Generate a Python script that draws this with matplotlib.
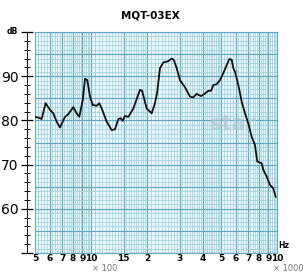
import numpy as np
import matplotlib; matplotlib.use("Agg")
import matplotlib.pyplot as plt

# frequency response
freq = [504, 532, 543, 570, 602, 627, 654, 681, 725, 755,
        803, 838, 865, 903, 929, 955, 988, 1021, 1073, 1108,
        1142, 1215, 1292, 1346, 1402, 1444, 1480, 1523, 1588, 1689,
        1834, 1883, 1992, 2120, 2208, 2272, 2349, 2447, 2603, 2716,
        2787, 2890, 3010, 3200, 3403, 3548, 3697, 3902, 4100, 4276,
        4417, 4545, 4741, 4938, 5144, 5365, 5543, 5710, 5823, 5946,
        6195, 6460, 6730, 7010, 7310, 7615, 7833, 8275, 8440, 8800,
        9170, 9553, 9840]
spl = [80.8, 80.5, 80.3, 83.9, 82.4, 81.6, 79.7, 78.4, 80.8, 81.4,
       83.0, 81.6, 80.8, 84.6, 89.4, 89.1, 85.4, 83.5, 83.3, 83.9,
       82.7, 79.7, 77.8, 78.0, 80.3, 80.5, 79.9, 81.0, 80.8, 82.7,
       86.9, 86.7, 82.7, 81.6, 83.9, 86.5, 91.8, 93.1, 93.4, 94.0,
       93.7, 91.8, 89.1, 87.5, 85.4, 85.2, 86.0, 85.5, 86.1, 86.7,
       86.7, 88.0, 88.2, 89.1, 90.7, 92.5, 93.9, 93.7, 91.8, 91.0,
       88.0, 84.2, 81.6, 79.3, 76.3, 74.4, 70.7, 70.3, 68.8, 67.3,
       65.4, 64.6, 62.7]

xtick_pos = [500, 600, 700, 800, 900, 1000, 1500, 2000, 3000, 4000,
             5000, 6000, 7000, 8000, 9000, 10000]
xtick_lbl = ["5", "6", "7", "8", "9", "10", "15", "2", "3", "4",
             "5", "6", "7", "8", "9", "10"]
ytick_pos = [50, 60, 70, 80, 90, 100]
ytick_lbl = ["", "60", "70", "80", "90", ""]

MAJ = "#5fa8bf"
MIN = "#9acfdd"

fig = plt.figure(figsize=(3.03, 2.72), dpi=100)
ax = fig.add_axes([35/303, 1-253/272, 242/303, 221/272])
ax.set_facecolor("#eaf6f9")
ax.set_xscale("log")
ax.set_xlim(500, 10000)
ax.set_ylim(50, 100)

# graph-paper grid
minor = np.concatenate([np.arange(500, 1000, 20), np.arange(1000, 2000, 50),
                        np.arange(2000, 5000, 100), np.arange(5000, 10001, 200)])
for f in minor:
    ax.axvline(f, color=MIN, lw=0.5, zorder=1)
for f in xtick_pos:
    ax.axvline(f, color=MAJ, lw=0.8, zorder=1)
for d in range(50, 101):
    if d % 5 == 0:
        ax.axhline(d, color=MAJ, lw=0.8, zorder=1)
    else:
        ax.axhline(d, color=MIN, lw=0.5, zorder=1)

ax.plot(freq, spl, color="#111111", lw=1.3, zorder=3)

ax.text(0.82, 0.585, "star", transform=ax.transAxes, fontsize=15,
        fontweight="bold", color="#aec8d3", alpha=0.7, ha="center",
        va="center", zorder=2)

ax.set_xticks(xtick_pos)
ax.set_xticklabels(xtick_lbl, fontsize=6.5, fontweight="bold")
ax.xaxis.set_minor_locator(plt.NullLocator())
ax.tick_params(axis="x", length=0, pad=1)

ax.set_yticks(ytick_pos)
ax.set_yticklabels(ytick_lbl, fontsize=6.5)
ax.set_yticks(np.arange(50, 101, 2), minor=True)
ax.tick_params(axis="y", which="major", direction="inout", length=8, width=0.9, pad=2)
ax.tick_params(axis="y", which="minor", direction="inout", length=4, width=0.7)

ax.spines["left"].set_position(("outward", 6))
ax.spines["left"].set_color("#222222")
for s in ("top", "right", "bottom"):
    ax.spines[s].set_color(MAJ)
    ax.spines[s].set_linewidth(0.8)

fig.text(150/303, 1-15/272, "MQT-03EX", ha="center", va="center",
         fontsize=7.5, fontweight="bold")
fig.text(12/303, 1-31/272, "dB", ha="center", va="center",
         fontsize=5.5, fontweight="bold")
fig.text(284/303, 1-245/272, "Hz", ha="center", va="center",
         fontsize=5.5, fontweight="bold")
fig.text(105/303, 1-268.5/272, "× 100", ha="center", va="center",
         fontsize=6, color="#777777")
fig.text(273/303, 1-268.5/272, "× 1000", ha="left", va="center",
         fontsize=6, color="#777777")

fig.savefig("out.png", dpi=100)
